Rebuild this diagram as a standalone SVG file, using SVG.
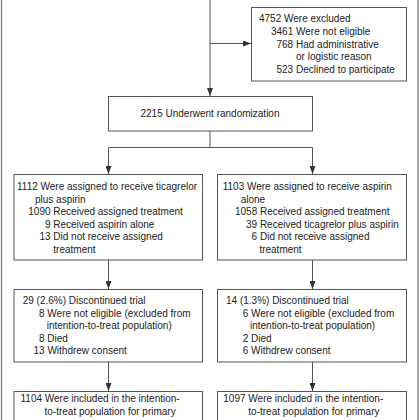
<svg xmlns="http://www.w3.org/2000/svg" width="420" height="420" viewBox="0 0 420 420">
<style>
.box{fill:#fff;stroke:#555;stroke-width:1}
.ln{fill:none;stroke:#555;stroke-width:1}
text{font-family:"Liberation Sans",Arial,sans-serif;font-size:10px;fill:#222}
.frame{fill:none;stroke:#777;stroke-width:1.2}
</style>
<defs>
<marker id="ah" viewBox="0 0 8 6" refX="8" refY="3" markerWidth="8" markerHeight="6" markerUnits="userSpaceOnUse" orient="auto">
<path d="M0,0 L8,3 L0,6 Z" fill="#333"/>
</marker>
</defs>
<rect width="420" height="420" fill="#fff"/>
<rect class="frame" x="1.5" y="-10" width="416.5" height="440"/>
<g id="connectors">
<line class="ln" x1="210" y1="0" x2="210" y2="96" marker-end="url(#ah)"/>
<line class="ln" x1="210" y1="43.5" x2="251" y2="43.5" marker-end="url(#ah)"/>
<polyline class="ln" points="210,131 210,147.5"/>
<polyline class="ln" points="108.5,147.5 312.5,147.5"/>
<line class="ln" x1="108.5" y1="147.5" x2="108.5" y2="174" marker-end="url(#ah)"/>
<line class="ln" x1="312.5" y1="147.5" x2="312.5" y2="174" marker-end="url(#ah)"/>
<line class="ln" x1="108.5" y1="260" x2="108.5" y2="289" marker-end="url(#ah)"/>
<line class="ln" x1="312.5" y1="260" x2="312.5" y2="289" marker-end="url(#ah)"/>
<line class="ln" x1="108.5" y1="362" x2="108.5" y2="391" marker-end="url(#ah)"/>
<line class="ln" x1="312.5" y1="362" x2="312.5" y2="391" marker-end="url(#ah)"/>
</g>
<g id="excluded">
<rect class="box" x="251.5" y="7.5" width="155" height="73.5"/>
<text x="259" y="22">4752 Were excluded</text>
<text x="271" y="35">3461 Were not eligible</text>
<text x="276.5" y="47.5">768 Had administrative</text>
<text x="296" y="60">or logistic reason</text>
<text x="276.5" y="72.5">523 Declined to participate</text>
</g>
<g id="randomization">
<rect class="box" x="108.5" y="96.5" width="204" height="34.5"/>
<text x="210" y="117" text-anchor="middle">2215 Underwent randomization</text>
</g>
<g id="armA">
<rect class="box" x="14" y="174.5" width="188.5" height="85.5"/>
<text x="17" y="190">1112 Were assigned to receive ticagrelor</text>
<text x="35" y="202.5">plus aspirin</text>
<text x="28.3" y="215">1090 Received assigned treatment</text>
<text x="44.9" y="227.5">9 Received aspirin alone</text>
<text x="39.4" y="240">13 Did not receive assigned</text>
<text x="53.3" y="252.5">treatment</text>
</g>
<g id="armB">
<rect class="box" x="217.5" y="174.5" width="189" height="85.5"/>
<text x="222.7" y="190">1103 Were assigned to receive aspirin</text>
<text x="240.7" y="202.5">alone</text>
<text x="235" y="215">1058 Received assigned treatment</text>
<text x="246" y="227.5">39 Received ticagrelor plus aspirin</text>
<text x="251.6" y="240">6 Did not receive assigned</text>
<text x="259.4" y="252.5">treatment</text>
</g>
<g id="discA">
<rect class="box" x="14" y="289.5" width="188.5" height="72.5"/>
<text x="22.7" y="304">29 (2.6%) Discontinued trial</text>
<text x="39" y="316.5">8 Were not eligible (excluded from</text>
<text x="46.7" y="329">intention-to-treat population)</text>
<text x="39" y="341.5">8 Died</text>
<text x="33.5" y="354">13 Withdrew consent</text>
</g>
<g id="discB">
<rect class="box" x="217.5" y="289.5" width="189" height="72.5"/>
<text x="226" y="304">14 (1.3%) Discontinued trial</text>
<text x="242.7" y="316.5">6 Were not eligible (excluded from</text>
<text x="250" y="329">intention-to-treat population)</text>
<text x="242.7" y="341.5">2 Died</text>
<text x="242.7" y="354">6 Withdrew consent</text>
</g>
<g id="itaA">
<rect class="box" x="14" y="391.5" width="188.5" height="40"/>
<text x="20.5" y="402">1104 Were included in the intention-</text>
<text x="44.5" y="414.5">to-treat population for primary</text>
</g>
<g id="itaB">
<rect class="box" x="217.5" y="391.5" width="189" height="40"/>
<text x="223.3" y="402">1097 Were included in the intention-</text>
<text x="248.3" y="414.5">to-treat population for primary</text>
</g>
</svg>
